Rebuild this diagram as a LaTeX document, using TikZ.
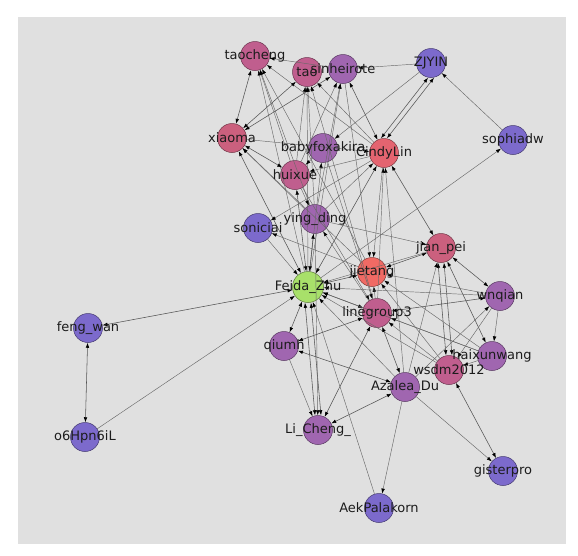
\documentclass[tikz,border=0pt]{standalone}
\usepackage{fontspec}
\setmainfont{DejaVu Sans}
\usetikzlibrary{arrows.meta}
\definecolor{ink}{RGB}{28,28,28}
\definecolor{wire}{RGB}{105,105,105}
\definecolor{mist}{RGB}{224,224,224}
\definecolor{violet}{RGB}{124,106,204}
\definecolor{plum}{RGB}{160,102,176}
\definecolor{mauve}{RGB}{192,94,142}
\definecolor{rose}{RGB}{203,96,126}
\definecolor{coral}{RGB}{228,100,112}
\definecolor{flame}{RGB}{240,106,100}
\definecolor{lime}{RGB}{168,224,106}

\begin{document}
\begin{tikzpicture}[x=1pt,y=-1pt,person/.style={circle,draw=#1!55!black,fill=#1,minimum size=29pt,inner sep=0pt,line width=.5pt},lbl/.style={text=ink,font=\fontsize{13}{15}\selectfont,inner sep=0pt},arc/.style={-{Latex[length=5pt,width=3.6pt,color=black]},draw=wire,line width=.45pt},arcb/.style={{Latex[length=5pt,width=3.6pt,color=black]}-{Latex[length=5pt,width=3.6pt,color=black]},draw=wire!80!black,line width=.55pt}]
\useasboundingbox[fill=white] (0,0) rectangle (578,555);
\fill[mist] (18,17) rectangle (566,544);
% people
\node[person=mauve] (tc) at (255,56) {};
\node[person=mauve] (tao) at (307,72) {};
\node[person=plum] (sin) at (343,69) {};
\node[person=violet] (zj) at (431,63) {};
\node[person=violet] (soph) at (513,140) {};
\node[person=rose] (xm) at (232,138) {};
\node[person=plum] (baby) at (323,148) {};
\node[person=coral] (cindy) at (384,153) {};
\node[person=mauve] (hx) at (295,175) {};
\node[person=plum] (yd) at (315,219) {};
\node[person=violet] (son) at (258,228) {};
\node[person=rose] (jp) at (441,248) {};
\node[person=flame] (jt) at (372,272) {};
\node[person=lime,minimum size=31pt] (feida) at (308,287) {};
\node[person=plum] (wq) at (500,296) {};
\node[person=mauve] (lg) at (377,313) {};
\node[person=violet] (fw) at (88,328) {};
\node[person=plum] (qm) at (284,346) {};
\node[person=plum] (hxw) at (492,356) {};
\node[person=mauve] (wsdm) at (449,370) {};
\node[person=plum] (az) at (405,387) {};
\node[person=plum] (lc) at (318,430) {};
\node[person=violet] (o6) at (85,437) {};
\node[person=violet] (gp) at (503,471) {};
\node[person=violet] (aek) at (379,508) {};
% follows
\draw[arc] (zj)--(sin); \draw[arc] (sin)--(tc); \draw[arcb] ([xshift=-3pt]zj.south)--([xshift=-3pt]cindy.north); \draw[arcb] ([xshift=3pt]zj.south)--([xshift=3pt]cindy.north); \draw[arc] (zj)--(baby); \draw[arc] (soph)--(zj); \draw[arc] (feida)--(soph);
\draw[arcb] (tc)--(xm); \draw[arc] (hx)--(tc); \draw[arc] (yd)--(tc); \draw[arc] (cindy)--(tc); \draw[arc] (feida)--(tc); \draw[arc] (jt)--(tc);
\draw[arcb] (xm)--(tao); \draw[arcb] (xm)--(sin); \draw[arc] (xm)--(cindy); \draw[arcb] (xm)--(hx); \draw[arcb] (xm)--(feida); \draw[arc] (yd)--(xm); \draw[arc] (jt)--(xm);
\draw[arc] (feida)--(tao); \draw[arc] (yd)--(tao); \draw[arc] (hx)--(tao); \draw[arc] (cindy)--(tao); \draw[arc] (lg)--(tao);
\draw[arcb] (sin)--(cindy); \draw[arc] (feida)--(sin); \draw[arc] (yd)--(sin); \draw[arc] (hx)--(sin); \draw[arc] (sin)--(jt);
\draw[arc] (cindy)--(hx); \draw[arc] (baby)--(lg); \draw[arc] (feida)--(baby); \draw[arc] (baby)--(hx);
\draw[arcb] (cindy)--(jp); \draw[arc] (cindy)--(jt); \draw[arcb] (cindy)--(feida); \draw[arc] (cindy)--(son); \draw[arc] (yd)--(cindy); \draw[arc] (lg)--(cindy); \draw[arc] (az)--(cindy);
\draw[arcb] (hx)--(feida); \draw[arc] (hx)--(yd); \draw[arc] (hx)--(lg);
\draw[arcb] (yd)--(feida); \draw[arc] (yd)--(jp); \draw[arc] (lg)--(yd); \draw[arc] (yd)--(lc);
\draw[arc] (son)--(feida); \draw[arc] (jt)--(son);
\draw[arcb] (jp)--(jt); \draw[arc] (jp)--(feida); \draw[arcb] (jp)--(wq); \draw[arcb] (jp)--(hxw); \draw[arcb] ([xshift=-3pt]jp.south)--([xshift=-3pt]wsdm.north); \draw[arcb] ([xshift=3pt]jp.south)--([xshift=3pt]wsdm.north); \draw[arc] (az)--(jp);
\draw[arcb] (jt)--(feida); \draw[arc] (wq)--(jt); \draw[arc] (hxw)--(jt); \draw[arc] (wsdm)--(jt); \draw[arc] (lg)--(jt);
\draw[arcb] (feida)--(fw); \draw[arc] (o6)--(feida); \draw[arcb] (fw)--(o6);
\draw[arcb] (feida)--(qm); \draw[arcb] ([xshift=-3pt]feida.south)--([xshift=-3pt]lc.north); \draw[arcb] ([xshift=3pt]feida.south)--([xshift=3pt]lc.north); \draw[arc] (aek)--(feida); \draw[arc] (az)--(feida); \draw[arcb] (feida)--(lg); \draw[arc] (wq)--(feida); \draw[arc] (hxw)--(feida); \draw[arc] (wsdm)--(feida);
\draw[arcb] (qm)--(lg); \draw[arcb] (qm)--(az); \draw[arc] (qm)--(lc);
\draw[arcb] (lc)--(az); \draw[arcb] (lc)--(lg);
\draw[arc] (az)--(aek); \draw[arc] (az)--(gp); \draw[arcb] (wsdm)--(gp);
\draw[arc] (wq)--(hxw); \draw[arcb] (wq)--(lg); \draw[arc] (az)--(wq); \draw[arc] (wq)--(wsdm);
\draw[arc] (hxw)--(lg); \draw[arc] (hxw)--(wsdm); \draw[arc] (wsdm)--(lg); \draw[arcb] (az)--(lg);
% names
\node[lbl] (tc-t) at (tc) {taocheng};
\node[lbl] (tao-t) at (tao) {tao};
\node[lbl] (sin-t) at (sin) {sinheirote};
\node[lbl] (zj-t) at (zj) {ZJYIN};
\node[lbl] (soph-t) at (soph) {sophiadw};
\node[lbl] (xm-t) at (xm) {xiaoma};
\node[lbl] (baby-t) at (baby) {babyfoxakira};
\node[lbl] (cindy-t) at (cindy) {CindyLin};
\node[lbl] (hx-t) at (hx) {huixue};
\node[lbl] (yd-t) at (yd) {ying\_ding};
\node[lbl] (son-t) at (son) {soniciai};
\node[lbl] (jp-t) at (jp) {jian\_pei};
\node[lbl] (jt-t) at (jt) {jietang};
\node[lbl] (feida-t) at (feida) {Feida\_Zhu};
\node[lbl] (wq-t) at (wq) {wnqian};
\node[lbl] (lg-t) at (lg) {linegroup3};
\node[lbl] (fw-t) at (fw) {feng\_wan};
\node[lbl] (qm-t) at (qm) {qiumh};
\node[lbl] (hxw-t) at (hxw) {haixunwang};
\node[lbl] (wsdm-t) at (wsdm) {wsdm2012};
\node[lbl] (az-t) at (az) {Azalea\_Du};
\node[lbl] (lc-t) at (lc) {Li\_Cheng\_};
\node[lbl] (o6-t) at (o6) {o6Hpn6iL};
\node[lbl] (gp-t) at (gp) {gisterpro};
\node[lbl] (aek-t) at (aek) {AekPalakorn};
\end{tikzpicture}
\end{document}
